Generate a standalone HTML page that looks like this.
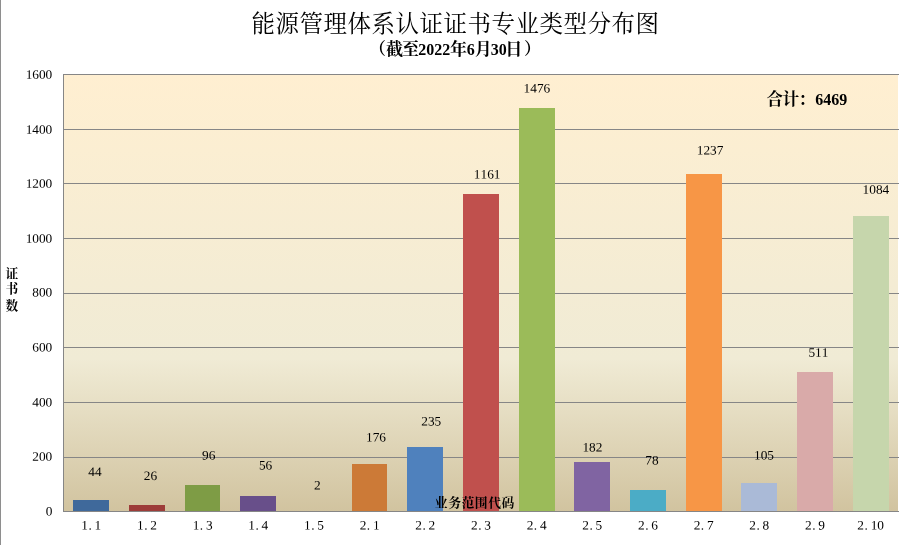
<!DOCTYPE html>
<html lang="zh"><head><meta charset="utf-8"><title>能源管理体系认证证书专业类型分布图</title>
<style>
html,body{margin:0;padding:0;background:#fff}
#c{position:relative;will-change:transform;width:916px;height:545px;overflow:hidden;background:#fff;font-family:"Liberation Serif",serif;color:#000}
svg text{font-family:"Liberation Serif","Noto Serif CJK SC",serif}
</style></head><body>
<div id="c">
<svg width="916" height="545" viewBox="0 0 916 545" role="img" aria-label="能源管理体系认证证书专业类型分布图（截至2022年6月30日） 合计：6469 证书数 业务范围代码" style="position:absolute;left:0;top:0">
<defs><linearGradient id="pg" x1="0" y1="0" x2="0" y2="1"><stop offset="0" stop-color="#FFEFD1"/><stop offset="0.65" stop-color="#F0EBD5"/><stop offset="1" stop-color="#D1C39F"/></linearGradient>
</defs>
<rect x="0" y="0" width="1" height="545" fill="#8E8E8E"/>
<rect x="63" y="74" width="835" height="438" fill="url(#pg)"/>
<g fill="#868686" shape-rendering="crispEdges"><rect x="63" y="74" width="836" height="1"/><rect x="63" y="129" width="836" height="1"/><rect x="63" y="183" width="836" height="1"/><rect x="63" y="238" width="836" height="1"/><rect x="63" y="293" width="836" height="1"/><rect x="63" y="347" width="836" height="1"/><rect x="63" y="402" width="836" height="1"/><rect x="63" y="457" width="836" height="1"/><rect x="63" y="511" width="836" height="1"/><rect x="63" y="74" width="1" height="438"/></g>
<g shape-rendering="crispEdges"><rect x="73" y="500" width="36" height="11" fill="#3F699B"/><rect x="129" y="505" width="36" height="6" fill="#9D3C39"/><rect x="185" y="485" width="35" height="26" fill="#7E9C45"/><rect x="240" y="496" width="36" height="15" fill="#684F8A"/><rect x="352" y="464" width="35" height="47" fill="#CC7A37"/><rect x="407" y="447" width="36" height="64" fill="#4F81BD"/><rect x="463" y="194" width="36" height="317" fill="#C0504D"/><rect x="519" y="108" width="36" height="403" fill="#9BBB59"/><rect x="574" y="462" width="36" height="49" fill="#8064A2"/><rect x="630" y="490" width="36" height="21" fill="#4BACC6"/><rect x="686" y="174" width="36" height="337" fill="#F79646"/><rect x="741" y="483" width="36" height="28" fill="#AABAD7"/><rect x="797" y="372" width="36" height="139" fill="#D9AAA9"/><rect x="853" y="216" width="36" height="295" fill="#C6D6AC"/></g>
<g fill="#000" font-family="Liberation Serif, Noto Serif CJK SC, serif">
<text font-size="23.5" y="32" x="251.45 275.45 299.45 323.45 347.45 371.45 395.45 419.45 443.45 467.45 491.45 515.45 539.45 563.45 587.45 611.45 635.45">能源管理体系认证证书专业类型分布图</text>
<text font-size="17" font-weight="bold" x="368.9" y="55.4">（</text>
<text font-size="17" font-weight="bold" y="55.4" x="386.1 402">截至</text>
<text font-size="17" font-weight="bold" x="450.1" y="55.4">年</text>
<text font-size="17" font-weight="bold" x="474.7" y="55.4">月</text>
<text font-size="17" font-weight="bold" x="505.3" y="55.4">日</text>
<text font-size="17" font-weight="bold" x="524.1" y="55.4">）</text>
<text font-size="16.6" font-weight="bold" y="105.3" x="766.5 782.5 798.5">合计：</text>
<text font-size="12.7" font-weight="bold" x="5.62" y="278.2">证</text>
<text font-size="12.7" font-weight="bold" x="5.62" y="293.4">书</text>
<text font-size="12.7" font-weight="bold" x="5.62" y="310.2">数</text>
<text font-size="12.8" font-weight="bold" y="507" x="434.87 448.2 461.53 474.87 488.2 501.53">业务范围代码</text>
</g>
<g font-family="Liberation Serif, serif" font-size="13.333" fill="#000"><text transform="translate(25.63,78.70) rotate(0.05) scale(1,0.97)" x="0 6.67 13.33 20" y="0">1600</text>
<text transform="translate(25.63,133.70) rotate(0.05) scale(1,0.97)" x="0 6.67 13.33 20" y="0">1400</text>
<text transform="translate(25.63,187.70) rotate(0.05) scale(1,0.97)" x="0 6.67 13.33 20" y="0">1200</text>
<text transform="translate(25.63,242.70) rotate(0.05) scale(1,0.97)" x="0 6.67 13.33 20" y="0">1000</text>
<text transform="translate(32.30,296.50) rotate(0.05) scale(1,0.97)" x="0 6.67 13.33" y="0">800</text>
<text transform="translate(32.30,351.50) rotate(0.05) scale(1,0.97)" x="0 6.67 13.33" y="0">600</text>
<text transform="translate(32.30,406.50) rotate(0.05) scale(1,0.97)" x="0 6.67 13.33" y="0">400</text>
<text transform="translate(32.30,460.70) rotate(0.05) scale(1,0.97)" x="0 6.67 13.33" y="0">200</text>
<text transform="translate(45.63,515.50) rotate(0.05) scale(1,0.97)" x="0" y="0">0</text>
<text transform="translate(81.30,529.60) rotate(0.05) scale(1,0.97)" x="0 7.17 13.33" y="0">1.1</text>
<text transform="translate(136.97,529.60) rotate(0.05) scale(1,0.97)" x="0 7.17 13.33" y="0">1.2</text>
<text transform="translate(192.63,529.60) rotate(0.05) scale(1,0.97)" x="0 7.17 13.33" y="0">1.3</text>
<text transform="translate(248.30,529.60) rotate(0.05) scale(1,0.97)" x="0 7.17 13.33" y="0">1.4</text>
<text transform="translate(303.97,529.60) rotate(0.05) scale(1,0.97)" x="0 7.17 13.33" y="0">1.5</text>
<text transform="translate(359.64,529.60) rotate(0.05) scale(1,0.97)" x="0 7.17 13.33" y="0">2.1</text>
<text transform="translate(415.30,529.60) rotate(0.05) scale(1,0.97)" x="0 7.17 13.33" y="0">2.2</text>
<text transform="translate(470.97,529.60) rotate(0.05) scale(1,0.97)" x="0 7.17 13.33" y="0">2.3</text>
<text transform="translate(526.64,529.60) rotate(0.05) scale(1,0.97)" x="0 7.17 13.33" y="0">2.4</text>
<text transform="translate(582.30,529.60) rotate(0.05) scale(1,0.97)" x="0 7.17 13.33" y="0">2.5</text>
<text transform="translate(637.97,529.60) rotate(0.05) scale(1,0.97)" x="0 7.17 13.33" y="0">2.6</text>
<text transform="translate(693.64,529.60) rotate(0.05) scale(1,0.97)" x="0 7.17 13.33" y="0">2.7</text>
<text transform="translate(749.30,529.60) rotate(0.05) scale(1,0.97)" x="0 7.17 13.33" y="0">2.8</text>
<text transform="translate(804.97,529.60) rotate(0.05) scale(1,0.97)" x="0 7.17 13.33" y="0">2.9</text>
<text transform="translate(857.31,529.60) rotate(0.05) scale(1,0.97)" x="0 7.17 13.33 20" y="0">2.10</text>
<text transform="translate(88.33,475.90) rotate(0.05) scale(1,0.97)" x="0 6.67" y="0">44</text>
<text transform="translate(143.73,480.10) rotate(0.05) scale(1,0.97)" x="0 6.67" y="0">26</text>
<text transform="translate(202.03,459.60) rotate(0.05) scale(1,0.97)" x="0 6.67" y="0">96</text>
<text transform="translate(258.93,469.40) rotate(0.05) scale(1,0.97)" x="0 6.67" y="0">56</text>
<text transform="translate(314.07,489.60) rotate(0.05) scale(1,0.97)" x="0" y="0">2</text>
<text transform="translate(366.00,441.60) rotate(0.05) scale(1,0.97)" x="0 6.67 13.33" y="0">176</text>
<text transform="translate(421.30,425.60) rotate(0.05) scale(1,0.97)" x="0 6.67 13.33" y="0">235</text>
<text transform="translate(473.87,178.60) rotate(0.05) scale(1,0.97)" x="0 6.67 13.33 20" y="0">1161</text>
<text transform="translate(523.57,92.60) rotate(0.05) scale(1,0.97)" x="0 6.67 13.33 20" y="0">1476</text>
<text transform="translate(582.40,451.60) rotate(0.05) scale(1,0.97)" x="0 6.67 13.33" y="0">182</text>
<text transform="translate(645.33,464.60) rotate(0.05) scale(1,0.97)" x="0 6.67" y="0">78</text>
<text transform="translate(696.77,154.60) rotate(0.05) scale(1,0.97)" x="0 6.67 13.33 20" y="0">1237</text>
<text transform="translate(754.00,459.60) rotate(0.05) scale(1,0.97)" x="0 6.67 13.33" y="0">105</text>
<text transform="translate(808.40,356.80) rotate(0.05) scale(1,0.97)" x="0 6.67 13.33" y="0">511</text>
<text transform="translate(862.57,193.80) rotate(0.05) scale(1,0.97)" x="0 6.67 13.33 20" y="0">1084</text></g>
<g font-family="Liberation Serif, serif" font-size="16" font-weight="bold" fill="#000"><text transform="translate(418.30,55.00)" x="0 8 16 24" y="0">2022</text>
<text transform="translate(466.70,55.00)" x="0" y="0">6</text>
<text transform="translate(490.70,55.00)" x="0 8" y="0">30</text>
<text transform="translate(815.30,105.00)" x="0 8 16 24" y="0">6469</text></g>
</svg>

</div>
</body></html>
